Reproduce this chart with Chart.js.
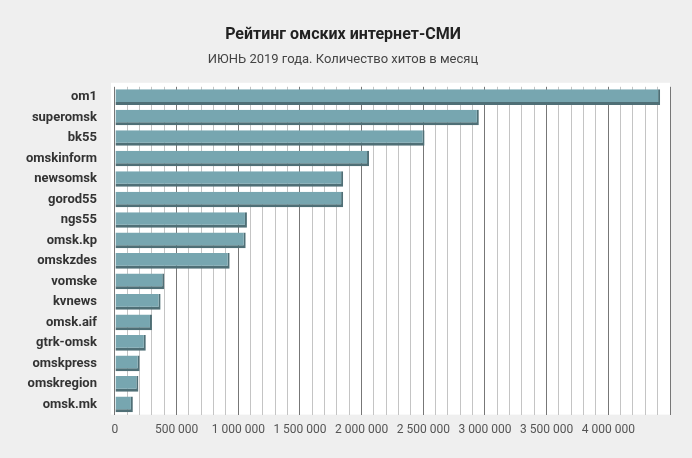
<!DOCTYPE html>
<html><head><meta charset="utf-8">
<script src="https://cdn.jsdelivr.net/npm/chart.js@4"></script>
<style>html,body{margin:0;background:#efefef;}#w{width:692px;height:458px;}</style>
</head><body><div id="w"><canvas id="c"></canvas></div>
<script>
const categories = ["om1","superomsk","bk55","omskinform","newsomsk","gorod55","ngs55","omsk.kp","omskzdes","vomske","kvnews","omsk.aif","gtrk-omsk","omskpress","omskregion","omsk.mk"];
const hits = [4420000,2950000,2510000,2060000,1850000,1850000,1070000,1060000,930000,400000,370000,300000,250000,200000,190000,145000];
const titleText = "Рейтинг омских интернет-СМИ";
const subtitleText = "ИЮНЬ 2019 года. Количество хитов в месяц";

const panel = {id:'panel',beforeDraw(ch){const a=ch.chartArea,c=ch.ctx;c.save();c.fillStyle='#fff';c.fillRect(a.left-4,a.top-4,a.right-a.left+4,a.bottom-a.top+4);c.restore();}};
Chart.defaults.font.family='Roboto';
new Chart(document.getElementById('c'),{
 type:'bar',
 data:{labels:categories,datasets:[{data:hits,backgroundColor:'#77a6b0',borderColor:'#4f6f76',borderWidth:{bottom:3,right:2,top:0,left:0},borderSkipped:false,barPercentage:0.9,categoryPercentage:0.85}]},
 options:{indexAxis:'y',responsive:true,maintainAspectRatio:false,animation:false,
  layout:{padding:{left:16,right:22,top:0,bottom:13}},
  plugins:{legend:{display:false},tooltip:{enabled:false},
   title:{display:true,text:titleText,color:'#222',font:{size:16,weight:'bold'},padding:{top:25,bottom:8}},
   subtitle:{display:true,text:subtitleText,color:'#444',font:{size:13},padding:{bottom:19}}},
  scales:{
   x:{min:0,max:4500000,border:{display:false},
    grid:{color:ctx=>ctx.tick&&ctx.tick.value%500000===0?'#777':'#c4c4c4',lineWidth:1,drawTicks:false},
    ticks:{stepSize:100000,autoSkip:false,maxRotation:0,color:'#555',font:{size:12},padding:8,
     callback:v=>(v%500000===0&&v<=4000000)?(v===0?'0':v.toLocaleString('ru-RU').replace(/\u00a0|\u202f/g,' ')):''}},
   y:{border:{display:false},grid:{display:false},ticks:{color:'#333',font:{size:13,weight:'bold'},padding:10}}
  }},
 plugins:[panel]
});
</script></body></html>
